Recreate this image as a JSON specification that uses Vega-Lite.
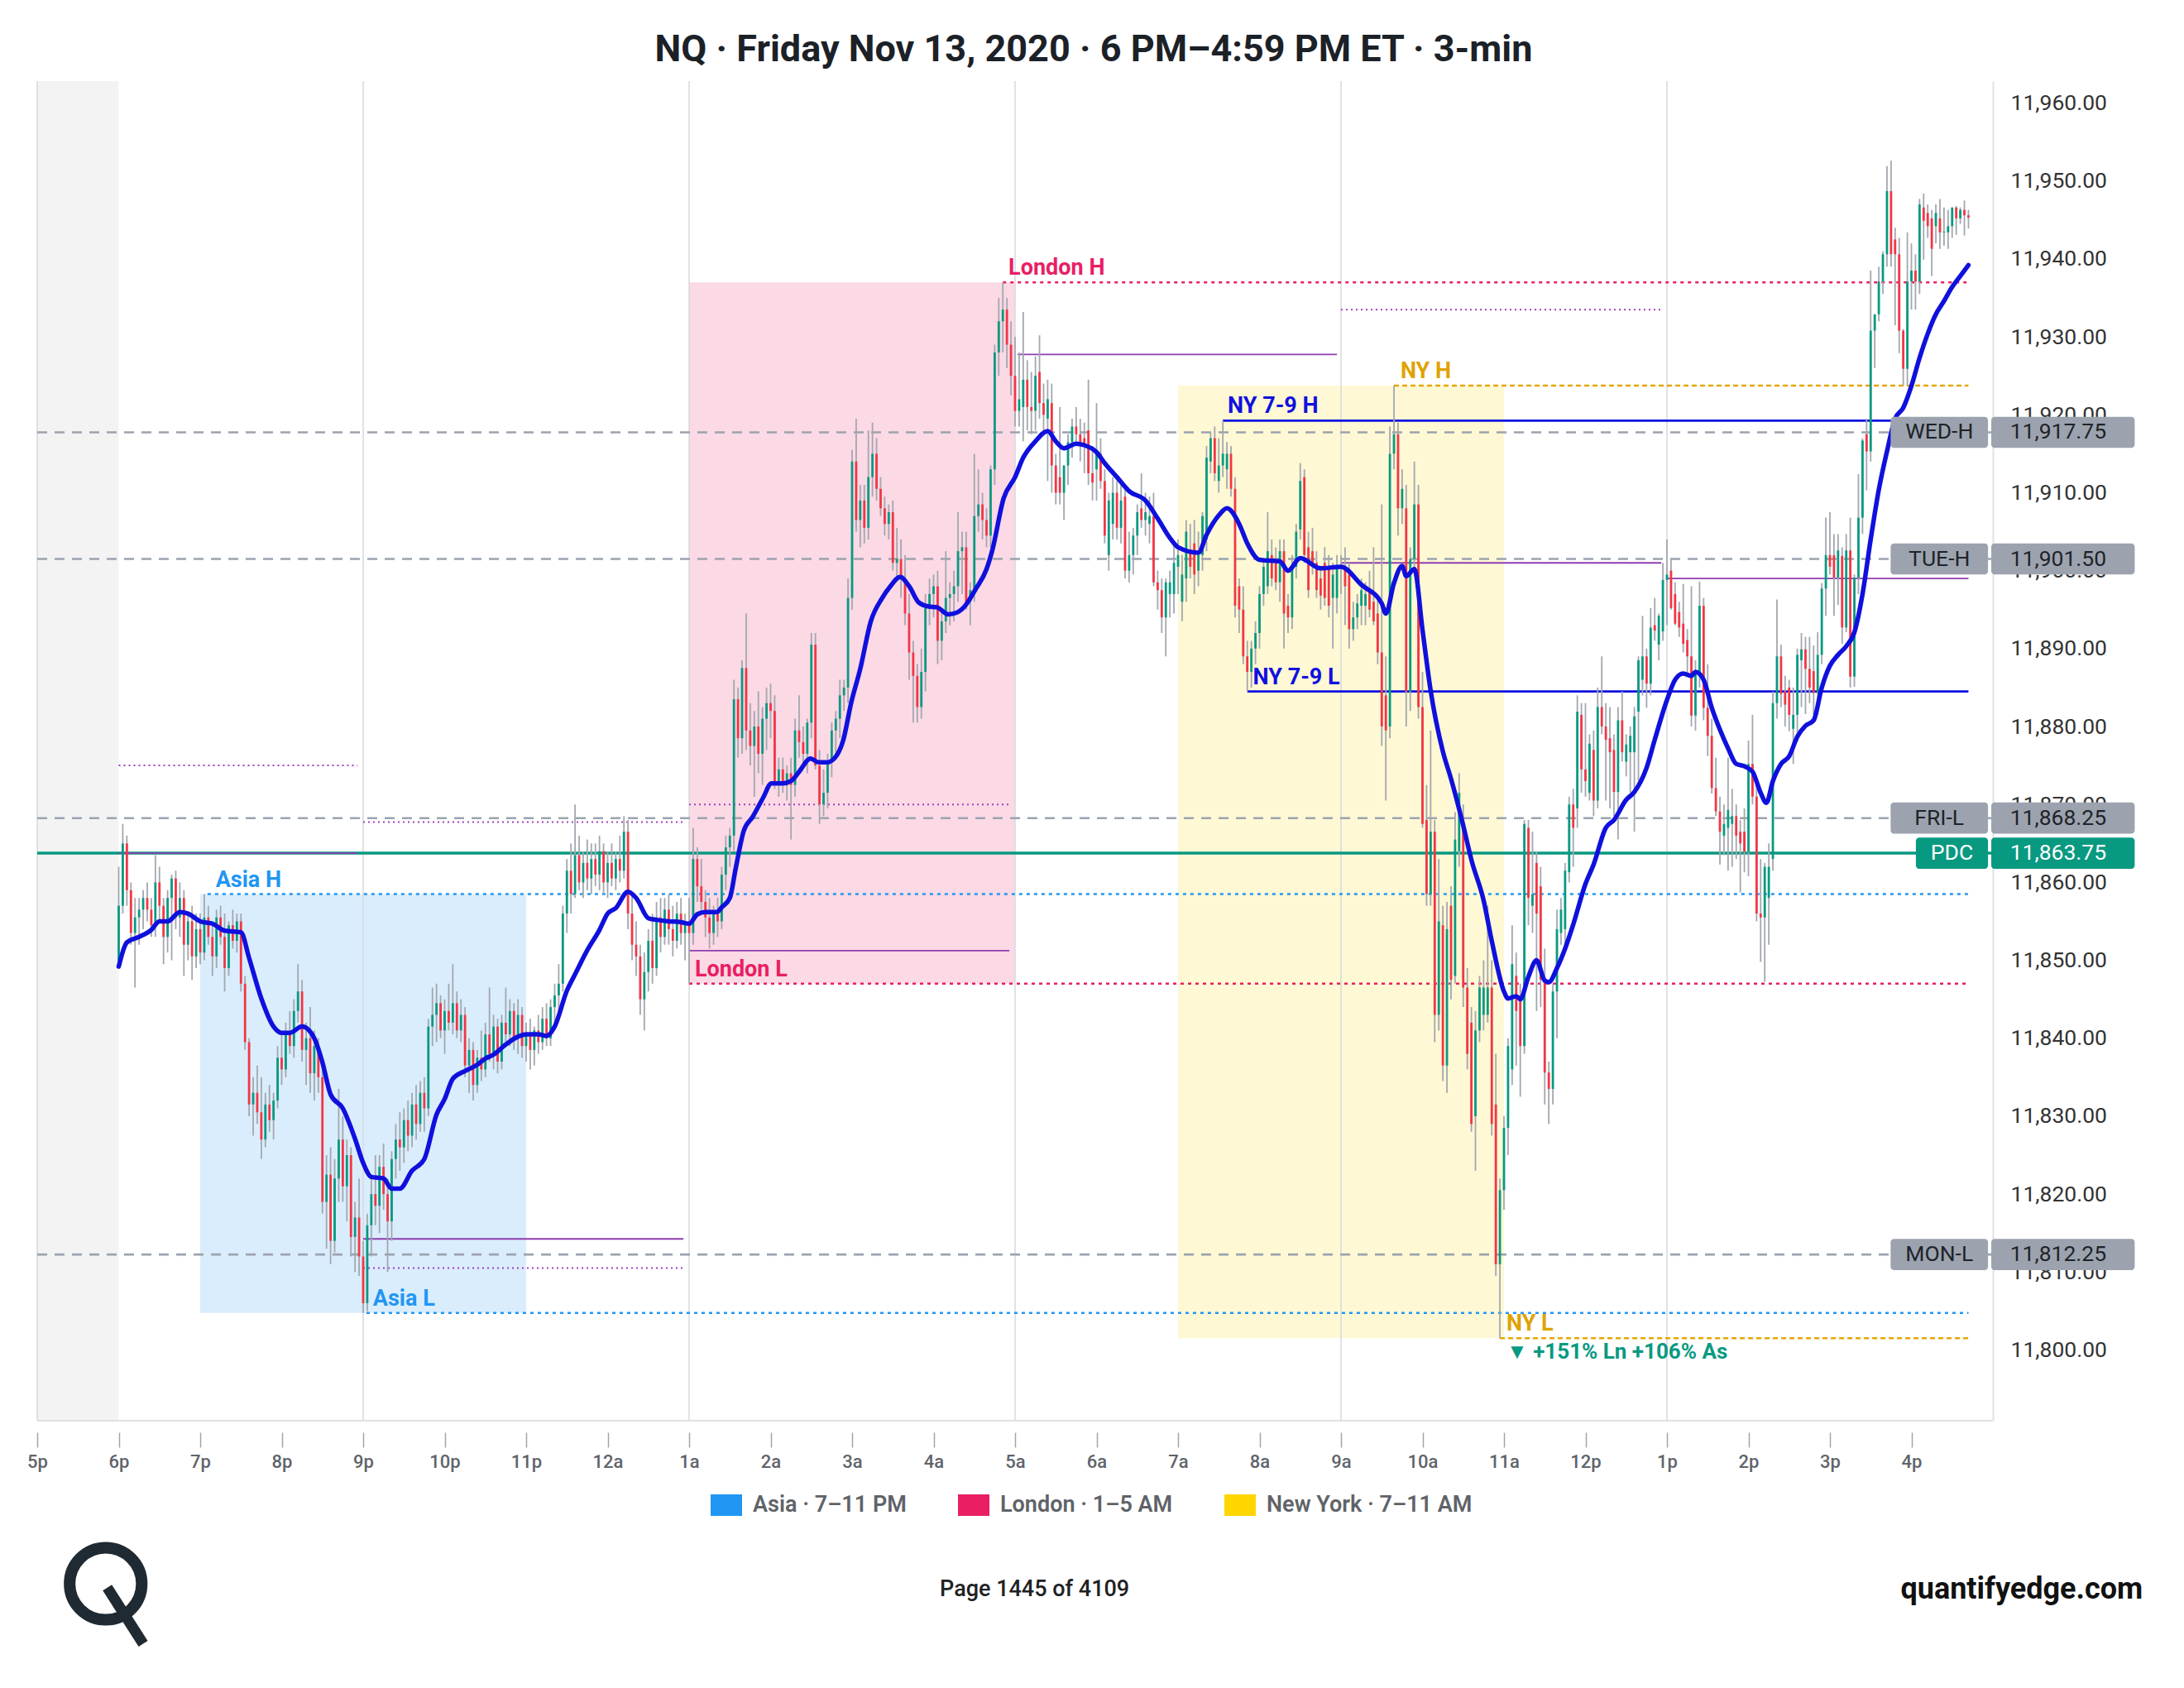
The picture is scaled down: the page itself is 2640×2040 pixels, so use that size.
{
"$schema": "https://vega.github.io/schema/vega-lite/v6.json",
"width": 2364, "height": 1619,
"autosize": {"type": "none"},
"padding": {"left": 45, "top": 98, "right": 231, "bottom": 323},
"background": "#ffffff",
"config": {"view": {"stroke": null}, "font": "Roboto"},
"title": {"text": "NQ · Friday Nov 13, 2020 · 6 PM–4:59 PM ET · 3-min", "font": "Roboto", "fontSize": 45, "fontWeight": "bold", "color": "#1c2127", "anchor": "middle", "dx": 95, "offset": 14},
"datasets": {
"sessions": [
{"s": "Asia · 7–11 PM", "x0": 2, "x1": 6, "lo": 11804.75, "hi": 11858.5},
{"s": "London · 1–5 AM", "x0": 8, "x1": 12, "lo": 11847, "hi": 11937},
{"s": "New York · 7–11 AM", "x0": 14, "x1": 18, "lo": 11801.5, "hi": 11923.75}
],
"closed": [{"from": 0, "to": 1}],
"grid": [{"t": 0}, {"t": 4}, {"t": 8}, {"t": 12}, {"t": 16}, {"t": 20}],
"levels": [
{"name": "WED-H", "p": 11917.75, "x0": 0, "x1": 24, "kind": "key"},
{"name": "TUE-H", "p": 11901.5, "x0": 0, "x1": 24, "kind": "key"},
{"name": "FRI-L", "p": 11868.25, "x0": 0, "x1": 24, "kind": "key"},
{"name": "MON-L", "p": 11812.25, "x0": 0, "x1": 24, "kind": "key"},
{"name": "PDC", "p": 11863.75, "x0": 0, "x1": 24, "kind": "pdc"},
{"name": "Asia H", "p": 11858.5, "x0": 2.09, "x1": 23.7, "kind": "asia"},
{"name": "Asia L", "p": 11804.75, "x0": 4.04, "x1": 23.7, "kind": "asia"},
{"name": "London H", "p": 11937, "x0": 11.85, "x1": 23.7, "kind": "london"},
{"name": "London L", "p": 11847, "x0": 8, "x1": 23.7, "kind": "london"},
{"name": "NY H", "p": 11923.75, "x0": 16.65, "x1": 23.7, "kind": "ny"},
{"name": "NY L", "p": 11801.5, "x0": 17.95, "x1": 23.7, "kind": "ny"},
{"name": "NY 7-9 H", "p": 11919.25, "x0": 14.55, "x1": 23.7, "kind": "ny79"},
{"name": "NY 7-9 L", "p": 11884.5, "x0": 14.85, "x1": 23.7, "kind": "ny79"},
{"name": "blk1 H", "p": 11875, "x0": 1, "x1": 3.93, "kind": "blkdot"},
{"name": "blk1 L", "p": 11863.75, "x0": 1, "x1": 3.93, "kind": "blksol"},
{"name": "blk2 H", "p": 11867.75, "x0": 4, "x1": 7.93, "kind": "blkdot"},
{"name": "blk2 L", "p": 11814.25, "x0": 4, "x1": 7.93, "kind": "blksol"},
{"name": "blk2 L2", "p": 11810.5, "x0": 4, "x1": 7.93, "kind": "blkdot"},
{"name": "blk3 H", "p": 11870, "x0": 8, "x1": 11.93, "kind": "blkdot"},
{"name": "blk3 L", "p": 11851.25, "x0": 8, "x1": 11.93, "kind": "blksol"},
{"name": "blk4 H", "p": 11927.75, "x0": 12.03, "x1": 15.95, "kind": "blksol"},
{"name": "blk5 H", "p": 11933.5, "x0": 16, "x1": 19.93, "kind": "blkdot"},
{"name": "blk5 L", "p": 11901, "x0": 16, "x1": 19.93, "kind": "blksol"},
{"name": "blk6 L", "p": 11899, "x0": 20, "x1": 23.7, "kind": "blksol"}
],
"labels": [
{"label": "Asia H", "t": 2.19, "p": 11858.5, "kind": "asia"},
{"label": "Asia L", "t": 4.12, "p": 11804.75, "kind": "asia"},
{"label": "London H", "t": 11.92, "p": 11937, "kind": "london"},
{"label": "London L", "t": 8.07, "p": 11847, "kind": "london"},
{"label": "NY H", "t": 16.73, "p": 11923.75, "kind": "ny"},
{"label": "NY L", "t": 18.03, "p": 11801.5, "kind": "ny"},
{"label": "NY 7-9 H", "t": 14.61, "p": 11919.25, "kind": "ny79"},
{"label": "NY 7-9 L", "t": 14.92, "p": 11884.5, "kind": "ny79"}
],
"note": [{"label": "▼ +151% Ln +106% As", "t": 18.03, "p": 11801.5}],
"keys": [
{"name": "WED-H", "p": 11917.75},
{"name": "TUE-H", "p": 11901.5},
{"name": "FRI-L", "p": 11868.25},
{"name": "PDC", "p": 11863.75},
{"name": "MON-L", "p": 11812.25}
],
"ma": [
{"t":1,"v":11849.2},{"t":1.1,"v":11852.3},{"t":1.25,"v":11853},{"t":1.4,"v":11853.9},{"t":1.5,"v":11855},{"t":1.6,"v":11855},{"t":1.75,"v":11856.2},{"t":1.85,"v":11856},{"t":2,"v":11855},{"t":2.15,"v":11854.7},{"t":2.3,"v":11853.8},{"t":2.5,"v":11853.6},{"t":2.6,"v":11850.3},{"t":2.75,"v":11845.1},{"t":2.9,"v":11841.5},{"t":3,"v":11840.7},{"t":3.1,"v":11840.7},{"t":3.25,"v":11841.5},{"t":3.4,"v":11840},{"t":3.5,"v":11836.9},{"t":3.6,"v":11832.8},{"t":3.75,"v":11831},{"t":3.9,"v":11827.1},{"t":4,"v":11824},{"t":4.1,"v":11822.2},{"t":4.25,"v":11822},{"t":4.35,"v":11820.7},{"t":4.45,"v":11820.7},{"t":4.6,"v":11823},{"t":4.75,"v":11824.5},{"t":4.9,"v":11830.2},{"t":5,"v":11832.2},{"t":5.1,"v":11834.8},{"t":5.25,"v":11835.8},{"t":5.4,"v":11836.6},{"t":5.5,"v":11837.4},{"t":5.6,"v":11837.9},{"t":5.75,"v":11839.2},{"t":5.9,"v":11840.2},{"t":6,"v":11840.5},{"t":6.15,"v":11840.5},{"t":6.25,"v":11840.3},{"t":6.35,"v":11841.5},{"t":6.5,"v":11846.1},{"t":6.6,"v":11848.2},{"t":6.75,"v":11851.3},{"t":6.9,"v":11853.9},{"t":7,"v":11856},{"t":7.1,"v":11856.7},{"t":7.25,"v":11858.8},{"t":7.35,"v":11858},{"t":7.5,"v":11855.4},{"t":7.6,"v":11855.2},{"t":7.75,"v":11855},{"t":7.9,"v":11854.9},{"t":8,"v":11854.7},{"t":8.1,"v":11855.9},{"t":8.2,"v":11856.2},{"t":8.34,"v":11856.2},{"t":8.4,"v":11856.8},{"t":8.5,"v":11858},{"t":8.57,"v":11861.7},{"t":8.67,"v":11866.6},{"t":8.78,"v":11868.4},{"t":8.91,"v":11870.9},{"t":9.01,"v":11872.7},{"t":9.15,"v":11872.7},{"t":9.25,"v":11873},{"t":9.35,"v":11874.2},{"t":9.49,"v":11875.9},{"t":9.59,"v":11875.4},{"t":9.69,"v":11875.4},{"t":9.79,"v":11876},{"t":9.89,"v":11878.2},{"t":9.99,"v":11883.1},{"t":10.1,"v":11887.4},{"t":10.23,"v":11893.5},{"t":10.37,"v":11896.5},{"t":10.47,"v":11898},{"t":10.59,"v":11899.2},{"t":10.7,"v":11898},{"t":10.82,"v":11895.9},{"t":10.94,"v":11895.4},{"t":11.04,"v":11895.3},{"t":11.18,"v":11894.4},{"t":11.28,"v":11894.6},{"t":11.38,"v":11895.4},{"t":11.52,"v":11897.7},{"t":11.65,"v":11900.2},{"t":11.72,"v":11902.6},{"t":11.86,"v":11909.3},{"t":12,"v":11912},{"t":12.1,"v":11914.5},{"t":12.25,"v":11916.6},{"t":12.4,"v":11917.9},{"t":12.5,"v":11916.6},{"t":12.6,"v":11915.7},{"t":12.75,"v":11916.3},{"t":12.85,"v":11916.1},{"t":13,"v":11915.2},{"t":13.1,"v":11913.8},{"t":13.25,"v":11912},{"t":13.4,"v":11910.2},{"t":13.6,"v":11909},{"t":13.75,"v":11906.7},{"t":13.9,"v":11904.2},{"t":14,"v":11903},{"t":14.25,"v":11902.3},{"t":14.35,"v":11904.6},{"t":14.5,"v":11907.1},{"t":14.6,"v":11908},{"t":14.75,"v":11906},{"t":14.85,"v":11903.5},{"t":15,"v":11901.4},{"t":15.25,"v":11901.2},{"t":15.35,"v":11900},{"t":15.5,"v":11901.6},{"t":15.75,"v":11900.3},{"t":16,"v":11900.5},{"t":16.25,"v":11898.2},{"t":16.5,"v":11895.8},{"t":16.55,"v":11894.5},{"t":16.65,"v":11898.4},{"t":16.75,"v":11900.6},{"t":16.8,"v":11899.3},{"t":16.9,"v":11900.2},{"t":17,"v":11892.4},{"t":17.1,"v":11884.6},{"t":17.25,"v":11876.8},{"t":17.35,"v":11873.3},{"t":17.5,"v":11867.3},{"t":17.6,"v":11862.9},{"t":17.75,"v":11857.7},{"t":17.85,"v":11852.5},{"t":18,"v":11846},{"t":18.05,"v":11845.1},{"t":18.15,"v":11845.4},{"t":18.2,"v":11845},{"t":18.3,"v":11847.9},{"t":18.4,"v":11850},{"t":18.5,"v":11847.4},{"t":18.55,"v":11847.2},{"t":18.65,"v":11849},{"t":18.75,"v":11851.5},{"t":18.85,"v":11854.6},{"t":19,"v":11859.8},{"t":19.1,"v":11862.3},{"t":19.25,"v":11867},{"t":19.35,"v":11868},{"t":19.5,"v":11870.6},{"t":19.6,"v":11871.6},{"t":19.75,"v":11874.7},{"t":19.85,"v":11878.3},{"t":20,"v":11883.4},{"t":20.1,"v":11886},{"t":20.2,"v":11886.8},{"t":20.3,"v":11886.5},{"t":20.35,"v":11887},{"t":20.45,"v":11886},{"t":20.55,"v":11882.4},{"t":20.65,"v":11879.6},{"t":20.75,"v":11877.2},{"t":20.85,"v":11875.2},{"t":20.95,"v":11874.9},{"t":21.05,"v":11874.2},{"t":21.15,"v":11871.5},{"t":21.22,"v":11870.2},{"t":21.3,"v":11873},{"t":21.4,"v":11875.2},{"t":21.5,"v":11876.2},{"t":21.6,"v":11878.7},{"t":21.7,"v":11880.1},{"t":21.8,"v":11880.8},{"t":21.9,"v":11885},{"t":22,"v":11887.8},{"t":22.1,"v":11889.2},{"t":22.2,"v":11890.3},{"t":22.3,"v":11892.1},{"t":22.4,"v":11897},{"t":22.5,"v":11904},{"t":22.6,"v":11910.4},{"t":22.7,"v":11915.3},{"t":22.8,"v":11919.5},{"t":22.9,"v":11920.9},{"t":23,"v":11923.7},{"t":23.1,"v":11927.3},{"t":23.2,"v":11930.4},{"t":23.3,"v":11932.9},{"t":23.4,"v":11934.6},{"t":23.5,"v":11936.4},{"t":23.6,"v":11937.8},{"t":23.7,"v":11939.2}
],
"candles": [
{"t":1,"o":11850,"h":11862,"l":11849,"c":11857},
{"t":1.05,"o":11857,"h":11867.5,"l":11856,"c":11865},
{"t":1.1,"o":11865,"h":11866,"l":11857,"c":11859},
{"t":1.15,"o":11859,"h":11860,"l":11852,"c":11853.5},
{"t":1.2,"o":11853.5,"h":11858,"l":11846.5,"c":11855.5},
{"t":1.25,"o":11855.5,"h":11858,"l":11852,"c":11856.5},
{"t":1.3,"o":11856.5,"h":11859,"l":11854,"c":11858},
{"t":1.35,"o":11858,"h":11860,"l":11855,"c":11856.5},
{"t":1.4,"o":11856.5,"h":11858,"l":11853,"c":11854.5},
{"t":1.45,"o":11854.5,"h":11863.5,"l":11853,"c":11860},
{"t":1.5,"o":11860,"h":11862,"l":11855,"c":11857},
{"t":1.55,"o":11857,"h":11858,"l":11849.5,"c":11853},
{"t":1.6,"o":11853,"h":11859,"l":11851,"c":11858},
{"t":1.65,"o":11858,"h":11861,"l":11850,"c":11860.5},
{"t":1.7,"o":11860.5,"h":11861.5,"l":11854,"c":11855.5},
{"t":1.75,"o":11855.5,"h":11860,"l":11853,"c":11858},
{"t":1.8,"o":11858,"h":11859,"l":11848,"c":11852},
{"t":1.85,"o":11852,"h":11856,"l":11850,"c":11855},
{"t":1.9,"o":11855,"h":11857,"l":11847.5,"c":11850.5},
{"t":1.95,"o":11850.5,"h":11856,"l":11849,"c":11854},
{"t":2,"o":11854,"h":11856,"l":11849.5,"c":11851},
{"t":2.05,"o":11851,"h":11858.5,"l":11850,"c":11855.5},
{"t":2.1,"o":11855.5,"h":11857,"l":11852,"c":11853},
{"t":2.15,"o":11853,"h":11855,"l":11848,"c":11850.5},
{"t":2.2,"o":11850.5,"h":11856.5,"l":11849,"c":11855.5},
{"t":2.25,"o":11855.5,"h":11857,"l":11852,"c":11853},
{"t":2.3,"o":11853,"h":11856,"l":11846,"c":11849},
{"t":2.35,"o":11849,"h":11855,"l":11848,"c":11854.5},
{"t":2.4,"o":11854.5,"h":11856.5,"l":11851.5,"c":11852.5},
{"t":2.45,"o":11852.5,"h":11856,"l":11851,"c":11855},
{"t":2.5,"o":11855,"h":11856,"l":11846,"c":11847},
{"t":2.55,"o":11847,"h":11848,"l":11838.5,"c":11839.5},
{"t":2.6,"o":11839.5,"h":11840,"l":11830,"c":11831.5},
{"t":2.65,"o":11831.5,"h":11835,"l":11827.5,"c":11833},
{"t":2.7,"o":11833,"h":11836.5,"l":11829,"c":11830.5},
{"t":2.75,"o":11830.5,"h":11835,"l":11824.5,"c":11827},
{"t":2.8,"o":11827,"h":11833,"l":11826,"c":11831.5},
{"t":2.85,"o":11831.5,"h":11834,"l":11828,"c":11829.5},
{"t":2.9,"o":11829.5,"h":11833,"l":11827,"c":11832},
{"t":2.95,"o":11832,"h":11839,"l":11831,"c":11837.5},
{"t":3,"o":11837.5,"h":11840.5,"l":11834,"c":11836},
{"t":3.05,"o":11836,"h":11842,"l":11835,"c":11840.5},
{"t":3.1,"o":11840.5,"h":11843.5,"l":11838,"c":11839},
{"t":3.15,"o":11839,"h":11845,"l":11837.5,"c":11843.5},
{"t":3.2,"o":11843.5,"h":11849.5,"l":11842,"c":11846},
{"t":3.25,"o":11846,"h":11847.5,"l":11837,"c":11838.5},
{"t":3.3,"o":11838.5,"h":11842,"l":11834,"c":11840},
{"t":3.35,"o":11840,"h":11844,"l":11833,"c":11835.5},
{"t":3.4,"o":11835.5,"h":11841,"l":11832,"c":11839},
{"t":3.45,"o":11839,"h":11840,"l":11833,"c":11835},
{"t":3.5,"o":11835,"h":11836,"l":11817.5,"c":11819},
{"t":3.55,"o":11819,"h":11825,"l":11813,"c":11822.5},
{"t":3.6,"o":11822.5,"h":11826,"l":11811,"c":11814},
{"t":3.65,"o":11814,"h":11824.5,"l":11812.5,"c":11822},
{"t":3.7,"o":11822,"h":11833.5,"l":11819,"c":11827},
{"t":3.75,"o":11827,"h":11830,"l":11819,"c":11821},
{"t":3.8,"o":11821,"h":11827,"l":11816.5,"c":11825},
{"t":3.85,"o":11825,"h":11826,"l":11812,"c":11814.5},
{"t":3.9,"o":11814.5,"h":11819,"l":11810,"c":11817},
{"t":3.95,"o":11817,"h":11822,"l":11809.5,"c":11812},
{"t":4,"o":11812,"h":11814,"l":11804.75,"c":11806},
{"t":4.05,"o":11806,"h":11817.5,"l":11805,"c":11816},
{"t":4.1,"o":11816,"h":11822,"l":11812,"c":11820},
{"t":4.15,"o":11820,"h":11825,"l":11816,"c":11818.5},
{"t":4.2,"o":11818.5,"h":11825,"l":11815,"c":11823.5},
{"t":4.25,"o":11823.5,"h":11826.5,"l":11818,"c":11820},
{"t":4.3,"o":11820,"h":11822,"l":11810,"c":11816.5},
{"t":4.35,"o":11816.5,"h":11825.5,"l":11814,"c":11824.5},
{"t":4.4,"o":11824.5,"h":11829,"l":11822,"c":11827},
{"t":4.45,"o":11827,"h":11830.5,"l":11823,"c":11826},
{"t":4.5,"o":11826,"h":11831,"l":11824,"c":11829.5},
{"t":4.55,"o":11829.5,"h":11832,"l":11825.5,"c":11827.5},
{"t":4.6,"o":11827.5,"h":11833,"l":11826,"c":11831.5},
{"t":4.65,"o":11831.5,"h":11834,"l":11827,"c":11829},
{"t":4.7,"o":11829,"h":11834.5,"l":11828,"c":11833},
{"t":4.75,"o":11833,"h":11835,"l":11828,"c":11831},
{"t":4.8,"o":11831,"h":11842.5,"l":11830,"c":11841.5},
{"t":4.85,"o":11841.5,"h":11846.5,"l":11839,"c":11843},
{"t":4.9,"o":11843,"h":11847,"l":11839.5,"c":11844.5},
{"t":4.95,"o":11844.5,"h":11845.5,"l":11840,"c":11841},
{"t":5,"o":11841,"h":11845,"l":11838,"c":11843.5},
{"t":5.05,"o":11843.5,"h":11847,"l":11841,"c":11842},
{"t":5.1,"o":11842,"h":11849.5,"l":11840.5,"c":11844.5},
{"t":5.15,"o":11844.5,"h":11846,"l":11840,"c":11841},
{"t":5.2,"o":11841,"h":11845,"l":11839.5,"c":11843},
{"t":5.25,"o":11843,"h":11844,"l":11835,"c":11836.5},
{"t":5.3,"o":11836.5,"h":11840,"l":11833,"c":11838.5},
{"t":5.35,"o":11838.5,"h":11839.5,"l":11832,"c":11834},
{"t":5.4,"o":11834,"h":11838.5,"l":11833,"c":11837.5},
{"t":5.45,"o":11837.5,"h":11841,"l":11834.5,"c":11836},
{"t":5.5,"o":11836,"h":11842,"l":11835,"c":11840.5},
{"t":5.55,"o":11840.5,"h":11846.5,"l":11837,"c":11838},
{"t":5.6,"o":11838,"h":11843,"l":11836,"c":11841.5},
{"t":5.65,"o":11841.5,"h":11842.5,"l":11835.5,"c":11837},
{"t":5.7,"o":11837,"h":11843,"l":11836,"c":11842},
{"t":5.75,"o":11842,"h":11846.5,"l":11839.5,"c":11840.5},
{"t":5.8,"o":11840.5,"h":11845,"l":11839,"c":11843.5},
{"t":5.85,"o":11843.5,"h":11844.5,"l":11838.5,"c":11840},
{"t":5.9,"o":11840,"h":11845,"l":11838,"c":11843},
{"t":5.95,"o":11843,"h":11844,"l":11837.5,"c":11839},
{"t":6,"o":11839,"h":11842,"l":11837,"c":11840.5},
{"t":6.05,"o":11840.5,"h":11842.5,"l":11836,"c":11838.5},
{"t":6.1,"o":11838.5,"h":11841.5,"l":11836.5,"c":11841},
{"t":6.15,"o":11841,"h":11843,"l":11838,"c":11839.5},
{"t":6.2,"o":11839.5,"h":11844,"l":11838.5,"c":11842.5},
{"t":6.25,"o":11842.5,"h":11844.5,"l":11839,"c":11840},
{"t":6.3,"o":11840,"h":11845,"l":11839,"c":11844},
{"t":6.35,"o":11844,"h":11847,"l":11842,"c":11845.5},
{"t":6.4,"o":11845.5,"h":11849.5,"l":11843,"c":11847},
{"t":6.45,"o":11847,"h":11857,"l":11846,"c":11856},
{"t":6.5,"o":11856,"h":11863,"l":11853.5,"c":11861.5},
{"t":6.55,"o":11861.5,"h":11865,"l":11856,"c":11858.5},
{"t":6.6,"o":11858.5,"h":11870,"l":11858,"c":11863.5},
{"t":6.65,"o":11863.5,"h":11866,"l":11859,"c":11860},
{"t":6.7,"o":11860,"h":11864,"l":11858,"c":11862.5},
{"t":6.75,"o":11862.5,"h":11865.5,"l":11859,"c":11860.5},
{"t":6.8,"o":11860.5,"h":11865,"l":11858.5,"c":11863},
{"t":6.85,"o":11863,"h":11865,"l":11859.5,"c":11861},
{"t":6.9,"o":11861,"h":11866,"l":11859,"c":11864},
{"t":6.95,"o":11864,"h":11865,"l":11858.5,"c":11860},
{"t":7,"o":11860,"h":11864,"l":11858,"c":11862.5},
{"t":7.05,"o":11862.5,"h":11865,"l":11859.5,"c":11860.5},
{"t":7.1,"o":11860.5,"h":11864,"l":11859,"c":11863},
{"t":7.15,"o":11863,"h":11866,"l":11860,"c":11861.5},
{"t":7.2,"o":11861.5,"h":11868.5,"l":11860.5,"c":11866.5},
{"t":7.25,"o":11866.5,"h":11868,"l":11854,"c":11856},
{"t":7.3,"o":11856,"h":11858.5,"l":11850,"c":11852},
{"t":7.35,"o":11852,"h":11855,"l":11848,"c":11850.5},
{"t":7.4,"o":11850.5,"h":11852,"l":11843,"c":11845},
{"t":7.45,"o":11845,"h":11851,"l":11841,"c":11848.5},
{"t":7.5,"o":11848.5,"h":11854,"l":11846,"c":11852.5},
{"t":7.55,"o":11852.5,"h":11856,"l":11847,"c":11849},
{"t":7.6,"o":11849,"h":11857.5,"l":11848,"c":11855.5},
{"t":7.65,"o":11855.5,"h":11858,"l":11851,"c":11853},
{"t":7.7,"o":11853,"h":11858,"l":11852,"c":11856.5},
{"t":7.75,"o":11856.5,"h":11858.5,"l":11852,"c":11854},
{"t":7.8,"o":11854,"h":11857,"l":11850.5,"c":11852.5},
{"t":7.85,"o":11852.5,"h":11857.5,"l":11851.5,"c":11856},
{"t":7.9,"o":11856,"h":11858,"l":11852,"c":11853.5},
{"t":7.95,"o":11853.5,"h":11856,"l":11850,"c":11855},
{"t":8,"o":11855,"h":11858,"l":11847,"c":11853.5},
{"t":8.05,"o":11853.5,"h":11867,"l":11852,"c":11863},
{"t":8.1,"o":11863,"h":11864.5,"l":11857.5,"c":11859.5},
{"t":8.15,"o":11859.5,"h":11863,"l":11856.5,"c":11857.5},
{"t":8.2,"o":11857.5,"h":11859,"l":11853,"c":11855.5},
{"t":8.25,"o":11855.5,"h":11858,"l":11851.5,"c":11853.5},
{"t":8.3,"o":11853.5,"h":11857,"l":11852,"c":11856},
{"t":8.35,"o":11856,"h":11858,"l":11853,"c":11855},
{"t":8.4,"o":11855,"h":11862,"l":11854,"c":11861},
{"t":8.45,"o":11861,"h":11866,"l":11859,"c":11864.5},
{"t":8.5,"o":11864.5,"h":11867,"l":11862,"c":11866},
{"t":8.55,"o":11866,"h":11886,"l":11864,"c":11883.5},
{"t":8.6,"o":11883.5,"h":11885,"l":11876,"c":11878.5},
{"t":8.65,"o":11878.5,"h":11888.5,"l":11876.5,"c":11887.5},
{"t":8.7,"o":11887.5,"h":11894.5,"l":11877,"c":11879.5},
{"t":8.75,"o":11879.5,"h":11883,"l":11875,"c":11877.5},
{"t":8.8,"o":11877.5,"h":11882,"l":11871,"c":11880},
{"t":8.85,"o":11880,"h":11884.5,"l":11874,"c":11876.5},
{"t":8.9,"o":11876.5,"h":11882.5,"l":11872.5,"c":11881},
{"t":8.95,"o":11881,"h":11885,"l":11877,"c":11883},
{"t":9,"o":11883,"h":11885.5,"l":11878.5,"c":11882},
{"t":9.05,"o":11882,"h":11884,"l":11872,"c":11873},
{"t":9.1,"o":11873,"h":11876,"l":11871,"c":11874.5},
{"t":9.15,"o":11874.5,"h":11876,"l":11871.5,"c":11872.5},
{"t":9.2,"o":11872.5,"h":11875,"l":11870.5,"c":11874},
{"t":9.25,"o":11874,"h":11876,"l":11865.5,"c":11872.5},
{"t":9.3,"o":11872.5,"h":11881,"l":11871,"c":11879.5},
{"t":9.35,"o":11879.5,"h":11884,"l":11876,"c":11878},
{"t":9.4,"o":11878,"h":11880,"l":11875,"c":11876.5},
{"t":9.45,"o":11876.5,"h":11881,"l":11874,"c":11880.5},
{"t":9.5,"o":11880.5,"h":11892,"l":11878.5,"c":11890.5},
{"t":9.55,"o":11890.5,"h":11892,"l":11874.5,"c":11875},
{"t":9.6,"o":11875,"h":11877,"l":11867.5,"c":11870},
{"t":9.65,"o":11870,"h":11874.5,"l":11868.5,"c":11871.5},
{"t":9.7,"o":11871.5,"h":11876.5,"l":11869.5,"c":11875.5},
{"t":9.75,"o":11875.5,"h":11880.5,"l":11873.5,"c":11879.5},
{"t":9.8,"o":11879.5,"h":11882,"l":11876,"c":11881},
{"t":9.85,"o":11881,"h":11886,"l":11878.5,"c":11884},
{"t":9.9,"o":11884,"h":11886,"l":11882,"c":11885},
{"t":9.95,"o":11885,"h":11899,"l":11883,"c":11896.5},
{"t":10,"o":11896.5,"h":11915.5,"l":11895,"c":11914},
{"t":10.05,"o":11914,"h":11919.5,"l":11905,"c":11906.5},
{"t":10.1,"o":11906.5,"h":11911,"l":11903,"c":11909},
{"t":10.15,"o":11909,"h":11911,"l":11903.5,"c":11905.5},
{"t":10.2,"o":11905.5,"h":11918,"l":11904,"c":11912},
{"t":10.25,"o":11912,"h":11919,"l":11909.5,"c":11915},
{"t":10.3,"o":11915,"h":11917,"l":11909,"c":11910.5},
{"t":10.35,"o":11910.5,"h":11912,"l":11907,"c":11908},
{"t":10.4,"o":11908,"h":11909.5,"l":11904.5,"c":11906},
{"t":10.45,"o":11906,"h":11908.5,"l":11904,"c":11907.5},
{"t":10.5,"o":11907.5,"h":11909,"l":11900,"c":11901},
{"t":10.55,"o":11901,"h":11905.5,"l":11899,"c":11901.5},
{"t":10.6,"o":11901.5,"h":11904,"l":11896.5,"c":11899},
{"t":10.65,"o":11899,"h":11902,"l":11893,"c":11894.5},
{"t":10.7,"o":11894.5,"h":11897,"l":11886,"c":11889.5},
{"t":10.75,"o":11889.5,"h":11891,"l":11880.5,"c":11886.5},
{"t":10.8,"o":11886.5,"h":11888,"l":11880.5,"c":11882.5},
{"t":10.85,"o":11882.5,"h":11890,"l":11881,"c":11887},
{"t":10.9,"o":11887,"h":11897,"l":11884.5,"c":11895.5},
{"t":10.95,"o":11895.5,"h":11899,"l":11893,"c":11897},
{"t":11,"o":11897,"h":11899.5,"l":11894,"c":11898},
{"t":11.05,"o":11898,"h":11900,"l":11888,"c":11891},
{"t":11.1,"o":11891,"h":11895,"l":11888.5,"c":11893.5},
{"t":11.15,"o":11893.5,"h":11902.5,"l":11892,"c":11896.5},
{"t":11.2,"o":11896.5,"h":11898.5,"l":11893,"c":11897},
{"t":11.25,"o":11897,"h":11900,"l":11893.5,"c":11898},
{"t":11.3,"o":11898,"h":11907.5,"l":11896,"c":11902.5},
{"t":11.35,"o":11902.5,"h":11905,"l":11897,"c":11903},
{"t":11.4,"o":11903,"h":11905,"l":11895,"c":11896},
{"t":11.45,"o":11896,"h":11898.5,"l":11893,"c":11897.5},
{"t":11.5,"o":11897.5,"h":11915,"l":11896,"c":11907},
{"t":11.55,"o":11907,"h":11913,"l":11905,"c":11908.5},
{"t":11.6,"o":11908.5,"h":11910,"l":11904,"c":11906.5},
{"t":11.65,"o":11906.5,"h":11908,"l":11903,"c":11904.5},
{"t":11.7,"o":11904.5,"h":11913.5,"l":11903,"c":11913},
{"t":11.75,"o":11913,"h":11929,"l":11911,"c":11928},
{"t":11.8,"o":11928,"h":11935,"l":11925,"c":11932},
{"t":11.85,"o":11932,"h":11937,"l":11928,"c":11933.5},
{"t":11.9,"o":11933.5,"h":11935,"l":11926,"c":11929},
{"t":11.95,"o":11929,"h":11932,"l":11922.5,"c":11925},
{"t":12,"o":11925,"h":11930,"l":11918.5,"c":11920.5},
{"t":12.05,"o":11920.5,"h":11928,"l":11918.5,"c":11922},
{"t":12.1,"o":11921,"h":11933.2,"l":11916.6,"c":11924.5},
{"t":12.15,"o":11924.5,"h":11927,"l":11918,"c":11921},
{"t":12.2,"o":11921,"h":11925.5,"l":11917.5,"c":11920.5},
{"t":12.25,"o":11920.5,"h":11927.5,"l":11918,"c":11925},
{"t":12.3,"o":11925.5,"h":11930.2,"l":11919.5,"c":11921.5},
{"t":12.35,"o":11921.5,"h":11924,"l":11917.5,"c":11920},
{"t":12.4,"o":11919.5,"h":11924.5,"l":11911.5,"c":11922},
{"t":12.45,"o":11921.5,"h":11924,"l":11910,"c":11913.5},
{"t":12.5,"o":11913.5,"h":11915,"l":11908.5,"c":11910},
{"t":12.55,"o":11912,"h":11921,"l":11908.5,"c":11910},
{"t":12.6,"o":11910,"h":11913.5,"l":11906.5,"c":11913.5},
{"t":12.65,"o":11913.5,"h":11917.5,"l":11911,"c":11916.5},
{"t":12.7,"o":11916.5,"h":11919.5,"l":11914.5,"c":11918.5},
{"t":12.75,"o":11918.5,"h":11921,"l":11916,"c":11917.5},
{"t":12.8,"o":11917.5,"h":11919.5,"l":11914,"c":11916.5},
{"t":12.85,"o":11917,"h":11919,"l":11912.5,"c":11916},
{"t":12.9,"o":11918,"h":11924.5,"l":11911,"c":11912.5},
{"t":12.95,"o":11912.5,"h":11916,"l":11909,"c":11911.3},
{"t":13,"o":11913,"h":11921.5,"l":11909,"c":11915},
{"t":13.05,"o":11915,"h":11917,"l":11910.5,"c":11911.5},
{"t":13.1,"o":11911.5,"h":11913,"l":11903.5,"c":11904.5},
{"t":13.15,"o":11902,"h":11910,"l":11900,"c":11909},
{"t":13.2,"o":11906,"h":11912,"l":11904,"c":11910},
{"t":13.25,"o":11910,"h":11911.5,"l":11904,"c":11905.5},
{"t":13.3,"o":11905.5,"h":11911,"l":11903.5,"c":11909},
{"t":13.35,"o":11909.5,"h":11911,"l":11899,"c":11900},
{"t":13.4,"o":11900,"h":11905,"l":11898.5,"c":11902},
{"t":13.45,"o":11902,"h":11905.5,"l":11899.5,"c":11904.5},
{"t":13.5,"o":11904.5,"h":11908.5,"l":11902,"c":11907.5},
{"t":13.55,"o":11908,"h":11912.5,"l":11905.5,"c":11906.5},
{"t":13.6,"o":11906.5,"h":11910,"l":11904.5,"c":11907.5},
{"t":13.65,"o":11906,"h":11909.5,"l":11903.5,"c":11907},
{"t":13.7,"o":11907,"h":11910,"l":11898,"c":11898.5},
{"t":13.75,"o":11898.5,"h":11900,"l":11895,"c":11897.5},
{"t":13.8,"o":11897.5,"h":11899,"l":11892,"c":11894},
{"t":13.85,"o":11894,"h":11899,"l":11889,"c":11898.5},
{"t":13.9,"o":11897,"h":11900,"l":11894,"c":11898.5},
{"t":13.95,"o":11897,"h":11903.5,"l":11894.5,"c":11901},
{"t":14,"o":11900.5,"h":11904,"l":11897,"c":11902},
{"t":14.05,"o":11896,"h":11902,"l":11893.5,"c":11899.5},
{"t":14.1,"o":11899,"h":11906.5,"l":11896,"c":11905},
{"t":14.15,"o":11902.5,"h":11906,"l":11899,"c":11900.5},
{"t":14.2,"o":11903.5,"h":11906.5,"l":11897,"c":11899.5},
{"t":14.25,"o":11900,"h":11905,"l":11898,"c":11902},
{"t":14.3,"o":11902,"h":11907.5,"l":11900,"c":11907},
{"t":14.35,"o":11904,"h":11916,"l":11902.5,"c":11914.5},
{"t":14.4,"o":11914,"h":11917.75,"l":11912.5,"c":11917},
{"t":14.45,"o":11917,"h":11918.5,"l":11911.5,"c":11912.5},
{"t":14.5,"o":11911.5,"h":11917,"l":11910,"c":11913.5},
{"t":14.55,"o":11913.5,"h":11919.25,"l":11912,"c":11915},
{"t":14.6,"o":11913,"h":11916.5,"l":11910.5,"c":11915},
{"t":14.65,"o":11915,"h":11916,"l":11909.5,"c":11910.5},
{"t":14.7,"o":11910.5,"h":11912,"l":11894,"c":11895.5},
{"t":14.75,"o":11898,"h":11899,"l":11892,"c":11895},
{"t":14.8,"o":11895,"h":11898,"l":11888,"c":11889},
{"t":14.85,"o":11889,"h":11891,"l":11884.5,"c":11887},
{"t":14.9,"o":11887,"h":11891,"l":11885,"c":11890},
{"t":14.95,"o":11890,"h":11893.5,"l":11888,"c":11892},
{"t":15,"o":11892,"h":11898,"l":11890,"c":11897},
{"t":15.05,"o":11897,"h":11901.5,"l":11895.5,"c":11900.5},
{"t":15.1,"o":11898,"h":11907.5,"l":11897,"c":11902.5},
{"t":15.15,"o":11902,"h":11904,"l":11898,"c":11899},
{"t":15.2,"o":11901,"h":11903,"l":11897.5,"c":11898.5},
{"t":15.25,"o":11898.5,"h":11904,"l":11896,"c":11902.5},
{"t":15.3,"o":11902.5,"h":11904,"l":11890,"c":11894.5},
{"t":15.35,"o":11895.5,"h":11897,"l":11892,"c":11894},
{"t":15.4,"o":11894,"h":11902,"l":11892.5,"c":11900.5},
{"t":15.45,"o":11900.5,"h":11906,"l":11899,"c":11905},
{"t":15.5,"o":11905.3,"h":11913.8,"l":11904,"c":11911.5},
{"t":15.55,"o":11912,"h":11913,"l":11901,"c":11902},
{"t":15.6,"o":11903,"h":11905,"l":11896.5,"c":11897.5},
{"t":15.65,"o":11902.5,"h":11905.5,"l":11899.5,"c":11901},
{"t":15.7,"o":11901,"h":11902.5,"l":11896.5,"c":11897.5},
{"t":15.75,"o":11899,"h":11900.5,"l":11895,"c":11896.8},
{"t":15.8,"o":11901,"h":11903,"l":11895.5,"c":11896.5},
{"t":15.85,"o":11900.5,"h":11902,"l":11894,"c":11895.5},
{"t":15.9,"o":11896.5,"h":11901,"l":11890,"c":11899.5},
{"t":15.95,"o":11896.5,"h":11902,"l":11894.5,"c":11900.5},
{"t":16,"o":11900.3,"h":11902,"l":11897,"c":11900.5},
{"t":16.05,"o":11900.5,"h":11903,"l":11893,"c":11898},
{"t":16.1,"o":11899.5,"h":11901,"l":11890,"c":11892.5},
{"t":16.15,"o":11892.5,"h":11896,"l":11891,"c":11894},
{"t":16.2,"o":11894,"h":11897,"l":11892.5,"c":11895.8},
{"t":16.25,"o":11895.5,"h":11899,"l":11893,"c":11897.5},
{"t":16.3,"o":11895.5,"h":11898.5,"l":11893,"c":11897},
{"t":16.35,"o":11897.5,"h":11900,"l":11894,"c":11895},
{"t":16.4,"o":11896,"h":11903,"l":11893,"c":11893.5},
{"t":16.45,"o":11894.5,"h":11897,"l":11888,"c":11889.5},
{"t":16.5,"o":11889.5,"h":11908.5,"l":11877.5,"c":11880},
{"t":16.55,"o":11884,"h":11889,"l":11870.5,"c":11879.5},
{"t":16.6,"o":11880,"h":11918.5,"l":11878.5,"c":11915},
{"t":16.65,"o":11915,"h":11923.75,"l":11913,"c":11917.5},
{"t":16.7,"o":11917.5,"h":11919,"l":11904.5,"c":11908},
{"t":16.75,"o":11908,"h":11913,"l":11906,"c":11910.5},
{"t":16.8,"o":11908,"h":11911,"l":11880,"c":11884.5},
{"t":16.85,"o":11884.5,"h":11903,"l":11882,"c":11901.5},
{"t":16.9,"o":11901.5,"h":11914,"l":11900,"c":11908.5},
{"t":16.95,"o":11908.5,"h":11911,"l":11881,"c":11882.5},
{"t":17,"o":11882.5,"h":11887,"l":11867,"c":11867.5},
{"t":17.05,"o":11868,"h":11872.5,"l":11857,"c":11858.5},
{"t":17.1,"o":11858.5,"h":11879.5,"l":11857,"c":11866.5},
{"t":17.15,"o":11866.5,"h":11868,"l":11839.5,"c":11843},
{"t":17.2,"o":11843,"h":11863,"l":11841,"c":11855},
{"t":17.25,"o":11854.5,"h":11857,"l":11834.5,"c":11836.5},
{"t":17.3,"o":11836.5,"h":11857.5,"l":11833,"c":11854},
{"t":17.35,"o":11857,"h":11859.5,"l":11845,"c":11847.5},
{"t":17.4,"o":11848,"h":11869,"l":11847,"c":11865.5},
{"t":17.45,"o":11864,"h":11874,"l":11862,"c":11871.5},
{"t":17.5,"o":11868,"h":11870,"l":11844,"c":11846.5},
{"t":17.55,"o":11846.5,"h":11849,"l":11836,"c":11838},
{"t":17.6,"o":11842,"h":11844,"l":11828,"c":11829},
{"t":17.65,"o":11830,"h":11843.5,"l":11823,"c":11841},
{"t":17.7,"o":11841,"h":11848,"l":11839.5,"c":11846.5},
{"t":17.75,"o":11843,"h":11850,"l":11841,"c":11846.5},
{"t":17.8,"o":11843,"h":11857,"l":11842,"c":11846.5},
{"t":17.85,"o":11846.5,"h":11850,"l":11827.5,"c":11829},
{"t":17.9,"o":11831.5,"h":11838,"l":11809.5,"c":11811},
{"t":17.95,"o":11811,"h":11822,"l":11801.5,"c":11820.5},
{"t":18,"o":11820.5,"h":11830,"l":11818,"c":11828.5},
{"t":18.05,"o":11828.5,"h":11840,"l":11825,"c":11839},
{"t":18.1,"o":11836,"h":11854.5,"l":11834,"c":11849.5},
{"t":18.15,"o":11848,"h":11851,"l":11836.5,"c":11843.5},
{"t":18.2,"o":11845.5,"h":11847,"l":11832.5,"c":11839},
{"t":18.25,"o":11839,"h":11868,"l":11838,"c":11867.5},
{"t":18.3,"o":11867,"h":11868,"l":11854.5,"c":11858},
{"t":18.35,"o":11857,"h":11866.5,"l":11853.5,"c":11858.5},
{"t":18.4,"o":11862.5,"h":11864,"l":11843.5,"c":11856},
{"t":18.45,"o":11859.5,"h":11862,"l":11844,"c":11847.5},
{"t":18.5,"o":11847.5,"h":11851.5,"l":11831.5,"c":11835.6},
{"t":18.55,"o":11835.6,"h":11837,"l":11829,"c":11833.5},
{"t":18.6,"o":11833.5,"h":11847,"l":11831.5,"c":11846},
{"t":18.65,"o":11846,"h":11856.5,"l":11840,"c":11854},
{"t":18.7,"o":11853.5,"h":11858,"l":11852,"c":11856.5},
{"t":18.75,"o":11854,"h":11862.5,"l":11852,"c":11861.5},
{"t":18.8,"o":11861.3,"h":11871,"l":11860,"c":11870},
{"t":18.85,"o":11870,"h":11872,"l":11862,"c":11867},
{"t":18.9,"o":11869.5,"h":11884,"l":11867,"c":11881.9},
{"t":18.95,"o":11881.5,"h":11883,"l":11871.5,"c":11874.5},
{"t":19,"o":11874.5,"h":11883,"l":11871,"c":11873},
{"t":19.05,"o":11871.5,"h":11879,"l":11870.5,"c":11877.8},
{"t":19.1,"o":11877,"h":11879.5,"l":11868.5,"c":11870.5},
{"t":19.15,"o":11870.5,"h":11885,"l":11869.5,"c":11882.5},
{"t":19.2,"o":11882.5,"h":11889,"l":11879,"c":11880},
{"t":19.25,"o":11880,"h":11883,"l":11870.5,"c":11878.3},
{"t":19.3,"o":11878.5,"h":11882.5,"l":11869.5,"c":11876.7},
{"t":19.35,"o":11877,"h":11879,"l":11868.5,"c":11871.6},
{"t":19.4,"o":11871.6,"h":11882.5,"l":11865.5,"c":11880.8},
{"t":19.45,"o":11880.8,"h":11884.5,"l":11875.5,"c":11876.7},
{"t":19.5,"o":11875.5,"h":11879,"l":11873.6,"c":11877.7},
{"t":19.55,"o":11876.7,"h":11880,"l":11871.5,"c":11878.8},
{"t":19.6,"o":11876.7,"h":11882.5,"l":11866.5,"c":11881.3},
{"t":19.65,"o":11881.9,"h":11889,"l":11873,"c":11888.5},
{"t":19.7,"o":11886,"h":11894.2,"l":11884,"c":11889},
{"t":19.75,"o":11889,"h":11890,"l":11882.4,"c":11885.5},
{"t":19.8,"o":11885.5,"h":11895.2,"l":11884,"c":11892.7},
{"t":19.85,"o":11893,"h":11896.5,"l":11891,"c":11892.3},
{"t":19.9,"o":11890.5,"h":11894.5,"l":11888.5,"c":11894.2},
{"t":19.95,"o":11892.2,"h":11901,"l":11891,"c":11898.8},
{"t":20,"o":11898.8,"h":11904,"l":11893,"c":11899.5},
{"t":20.05,"o":11900,"h":11901.5,"l":11895,"c":11895.2},
{"t":20.1,"o":11897,"h":11898.5,"l":11893,"c":11893.2},
{"t":20.15,"o":11894.7,"h":11896,"l":11891.5,"c":11892.7},
{"t":20.2,"o":11893.2,"h":11898.3,"l":11889.5,"c":11890.6},
{"t":20.25,"o":11891.1,"h":11892.5,"l":11887,"c":11889},
{"t":20.3,"o":11889,"h":11898,"l":11880,"c":11881.4},
{"t":20.35,"o":11881.4,"h":11888.5,"l":11879.5,"c":11887},
{"t":20.4,"o":11887,"h":11898.6,"l":11885,"c":11895.5},
{"t":20.45,"o":11895.5,"h":11896.5,"l":11880.8,"c":11882.4},
{"t":20.5,"o":11882.4,"h":11888,"l":11876.2,"c":11878.8},
{"t":20.55,"o":11878.8,"h":11881,"l":11871.4,"c":11872.1},
{"t":20.6,"o":11872.1,"h":11876,"l":11868.5,"c":11869.1},
{"t":20.65,"o":11869.1,"h":11871,"l":11862.3,"c":11866.5},
{"t":20.7,"o":11866,"h":11870,"l":11863.5,"c":11867.5},
{"t":20.75,"o":11867,"h":11876,"l":11861.5,"c":11869.3},
{"t":20.8,"o":11867.5,"h":11872,"l":11862,"c":11868.5},
{"t":20.85,"o":11868.5,"h":11870,"l":11863,"c":11866},
{"t":20.9,"o":11866.5,"h":11868,"l":11858.7,"c":11865},
{"t":20.95,"o":11866.5,"h":11869.5,"l":11861.3,"c":11863.9},
{"t":21,"o":11863.9,"h":11878.2,"l":11860.8,"c":11875.2},
{"t":21.05,"o":11875.2,"h":11881.5,"l":11870,"c":11871},
{"t":21.1,"o":11871,"h":11873,"l":11855,"c":11856},
{"t":21.15,"o":11856,"h":11863,"l":11849.8,"c":11855.5},
{"t":21.2,"o":11855.5,"h":11862.5,"l":11847.25,"c":11862},
{"t":21.25,"o":11858,"h":11865,"l":11852,"c":11862},
{"t":21.3,"o":11863,"h":11884.5,"l":11861.5,"c":11883},
{"t":21.35,"o":11883,"h":11896.3,"l":11881,"c":11889},
{"t":21.4,"o":11889,"h":11890.5,"l":11882.5,"c":11884.2},
{"t":21.45,"o":11884.5,"h":11886.5,"l":11880,"c":11882.8},
{"t":21.5,"o":11885,"h":11886,"l":11879.4,"c":11881.5},
{"t":21.55,"o":11879.7,"h":11885,"l":11875.2,"c":11881.5},
{"t":21.6,"o":11881.5,"h":11890,"l":11878,"c":11889.2},
{"t":21.65,"o":11888.5,"h":11892,"l":11882.5,"c":11889.9},
{"t":21.7,"o":11889.9,"h":11891.5,"l":11881.6,"c":11887.4},
{"t":21.75,"o":11887.4,"h":11891.5,"l":11883,"c":11885},
{"t":21.8,"o":11887.1,"h":11890.4,"l":11881.5,"c":11884.3},
{"t":21.85,"o":11884.3,"h":11892.1,"l":11881.5,"c":11889.2},
{"t":21.9,"o":11889.2,"h":11898.4,"l":11888,"c":11897.7},
{"t":21.95,"o":11897.7,"h":11906.8,"l":11894.2,"c":11902},
{"t":22,"o":11902,"h":11907.5,"l":11899.5,"c":11900.5},
{"t":22.05,"o":11902,"h":11904.7,"l":11894.2,"c":11899.1},
{"t":22.1,"o":11899.1,"h":11904.7,"l":11895.6,"c":11902.6},
{"t":22.15,"o":11901.9,"h":11903,"l":11890.6,"c":11892.7},
{"t":22.2,"o":11892.7,"h":11904.7,"l":11892.1,"c":11902.6},
{"t":22.25,"o":11902.6,"h":11906.8,"l":11885,"c":11886.4},
{"t":22.3,"o":11886.4,"h":11899.5,"l":11885.1,"c":11899.1},
{"t":22.35,"o":11899.1,"h":11912.4,"l":11897,"c":11906.8},
{"t":22.4,"o":11906.8,"h":11917,"l":11904.7,"c":11916.7},
{"t":22.45,"o":11917.5,"h":11919.5,"l":11910.3,"c":11915.3},
{"t":22.5,"o":11915.3,"h":11938.5,"l":11914,"c":11930.8},
{"t":22.55,"o":11930.8,"h":11932.5,"l":11926,"c":11932.9},
{"t":22.6,"o":11932.9,"h":11939,"l":11932,"c":11937.1},
{"t":22.65,"o":11937.1,"h":11941,"l":11935.5,"c":11940.6},
{"t":22.7,"o":11940.6,"h":11951.9,"l":11939,"c":11948.7},
{"t":22.75,"o":11948.7,"h":11952.6,"l":11939,"c":11940.6},
{"t":22.8,"o":11942.5,"h":11944,"l":11931.5,"c":11940.6},
{"t":22.85,"o":11940.6,"h":11942.7,"l":11927.9,"c":11930.8},
{"t":22.9,"o":11930.8,"h":11931,"l":11923.75,"c":11925.9},
{"t":22.95,"o":11925.9,"h":11943.4,"l":11923.8,"c":11937.1},
{"t":23,"o":11937.1,"h":11942,"l":11933.5,"c":11938.5},
{"t":23.05,"o":11938.5,"h":11940.6,"l":11933.5,"c":11937.1},
{"t":23.1,"o":11937.1,"h":11947.7,"l":11935.5,"c":11947},
{"t":23.15,"o":11946.6,"h":11948.4,"l":11939.9,"c":11944.9},
{"t":23.2,"o":11945.9,"h":11947,"l":11942.7,"c":11944.2},
{"t":23.25,"o":11945.2,"h":11946.3,"l":11937.8,"c":11941.3},
{"t":23.3,"o":11944.2,"h":11947,"l":11942,"c":11945.9},
{"t":23.35,"o":11945.2,"h":11947.7,"l":11941.3,"c":11943.4},
{"t":23.4,"o":11943.4,"h":11946.6,"l":11941.7,"c":11943.5},
{"t":23.45,"o":11943.4,"h":11946.3,"l":11941.3,"c":11944.2},
{"t":23.5,"o":11944.2,"h":11946.6,"l":11942.7,"c":11946.6},
{"t":23.55,"o":11946.6,"h":11946.8,"l":11943.1,"c":11945.2},
{"t":23.6,"o":11945.2,"h":11946.6,"l":11944.5,"c":11946.3},
{"t":23.65,"o":11946.3,"h":11947.5,"l":11943,"c":11945.6},
{"t":23.7,"o":11945.6,"h":11946.3,"l":11943.9,"c":11945.3}
]
},
"layer": [
{
"data": {"name": "sessions"},
"mark": {"type": "rect", "opacity": 0.17},
"encoding": {
"x": {"field": "x0", "type": "quantitative", "scale": {"domain": [0, 24], "nice": false, "zero": false},
"axis": {"title": null, "values": [0,1,2,3,4,5,6,7,8,9,10,11,12,13,14,15,16,17,18,19,20,21,22,23], "labelExpr": "['5p','6p','7p','8p','9p','10p','11p','12a','1a','2a','3a','4a','5a','6a','7a','8a','9a','10a','11a','12p','1p','2p','3p','4p'][datum.value]", "domain": false, "grid": false, "ticks": true, "tickSize": 18, "tickColor": "#a0a4ab", "tickWidth": 1.5, "offset": 14, "labelPadding": 7, "labelFont": "Roboto", "labelFontSize": 22, "labelFontWeight": 500, "labelColor": "#60646b", "labelFlush": false}},
"x2": {"field": "x1"},
"y": {"field": "lo", "type": "quantitative", "scale": {"domain": [11790.92, 11962.82], "nice": false, "zero": false},
"axis": {"orient": "right", "title": null, "values": [11800,11810,11820,11830,11840,11850,11860,11870,11880,11890,11900,11910,11920,11930,11940,11950,11960], "format": ",.2f", "domain": true, "domainColor": "#dfe1e5", "domainWidth": 2, "ticks": false, "tickSize": 0, "labelPadding": 21, "labelFont": "Roboto", "labelFontSize": 26.5, "labelColor": "#333333", "grid": false, "labelFlush": false}},
"y2": {"field": "hi"},
"fill": {"field": "s", "type": "nominal",
"scale": {"domain": ["Asia · 7–11 PM", "London · 1–5 AM", "New York · 7–11 AM"], "range": ["#2196f3", "#e91e63", "#ffd600"]},
"legend": {"orient": "none", "legendX": 814, "legendY": 1702, "direction": "horizontal", "title": null, "labelFont": "Roboto", "labelFontSize": 27, "labelFontWeight": 600, "labelColor": "#5f6368", "labelLimit": 600, "symbolType": "M-1,-0.68H1V0.68H-1Z", "symbolSize": 1444, "symbolOpacity": 1, "symbolStrokeWidth": 0, "labelOffset": 13, "columnPadding": 62, "padding": 0}}
}
},
{
"data": {"name": "closed"},
"mark": {"type": "rect", "color": "#f3f3f3"},
"encoding": {"x": {"field": "from", "type": "quantitative"}, "x2": {"field": "to"}}
},
{
"data": {"name": "grid"},
"mark": {"type": "rule", "color": "#d6d8dc", "strokeWidth": 1.5},
"encoding": {"x": {"field": "t", "type": "quantitative"}}
},
{
"data": {"name": "levels"},
"mark": {"type": "rule"},
"encoding": {
"x": {"field": "x0", "type": "quantitative"},
"x2": {"field": "x1"},
"y": {"field": "p", "type": "quantitative"},
"stroke": {"field": "kind", "type": "nominal", "legend": null, "scale": {"domain": ["asia","london","ny","ny79","blkdot","blksol","key","pdc"], "range": ["#2196f3","#e91e63","#e6a700","#1010e0","#a040c0","#8e3cb0","#9ca3af","#089981"]}},
"strokeDash": {"field": "kind", "type": "nominal", "legend": null, "scale": {"domain": ["asia","london","ny","ny79","blkdot","blksol","key","pdc"], "range": [[4,5],[4,5],[6,4],[1,0],[2,4],[1,0],[12,9],[1,0]]}},
"strokeWidth": {"field": "kind", "type": "ordinal", "legend": null, "scale": {"type": "ordinal", "domain": ["asia","london","ny","ny79","blkdot","blksol","key","pdc"], "range": [2.5,2.5,2.5,2.6,2,1.8,2.6,3.6]}}
}
},
{
"data": {"name": "candles"},
"mark": {"type": "rule", "color": "#a3a7ae", "strokeWidth": 1.8},
"encoding": {"x": {"field": "t", "type": "quantitative"}, "y": {"field": "l", "type": "quantitative"}, "y2": {"field": "h"}}
},
{
"data": {"name": "candles"},
"mark": {"type": "rule", "strokeWidth": 2.8},
"encoding": {"x": {"field": "t", "type": "quantitative"}, "y": {"field": "o", "type": "quantitative"}, "y2": {"field": "c"},
"color": {"condition": {"test": "datum.c >= datum.o", "value": "#089981"}, "value": "#f23645"}}
},
{
"data": {"name": "ma"},
"mark": {"type": "line", "color": "#1010dd", "strokeWidth": 5.5, "interpolate": "monotone", "strokeCap": "round"},
"encoding": {"x": {"field": "t", "type": "quantitative"}, "y": {"field": "v", "type": "quantitative"}}
},
{
"data": {"name": "labels"},
"mark": {"type": "text", "font": "Roboto", "fontSize": 27, "fontWeight": "bold", "align": "left", "baseline": "alphabetic", "dy": -9},
"encoding": {"x": {"field": "t", "type": "quantitative"}, "y": {"field": "p", "type": "quantitative"}, "text": {"field": "label"},
"color": {"field": "kind", "type": "nominal", "legend": null, "scale": {"domain": ["asia","london","ny","ny79"], "range": ["#2196f3","#e91e63","#e0a200","#1010e0"]}}}
},
{
"data": {"name": "note"},
"mark": {"type": "text", "font": "Roboto", "fontSize": 26, "fontWeight": "bold", "align": "left", "baseline": "alphabetic", "dy": 25, "color": "#089981"},
"encoding": {"x": {"field": "t", "type": "quantitative"}, "y": {"field": "p", "type": "quantitative"}, "text": {"field": "label"}}
},
{
"data": {"name": "keys"},
"transform": [
{"calculate": "datum.p - 2", "as": "p0"},
{"calculate": "datum.p + 2", "as": "p1"},
{"calculate": "23.94 - 0.42 - 0.155 * length(datum.name)", "as": "bx"},
{"calculate": "(datum.bx + 23.94) / 2", "as": "cx"}
],
"layer": [
{"mark": {"type": "rect", "cornerRadius": 4},
"encoding": {"x": {"field": "bx", "type": "quantitative"}, "x2": {"datum": 23.94}, "y": {"field": "p0", "type": "quantitative"}, "y2": {"field": "p1"},
"color": {"condition": {"test": "datum.name === 'PDC'", "value": "#089981"}, "value": "#9ca3af"}}},
{"mark": {"type": "rect", "cornerRadius": 4},
"encoding": {"x": {"datum": 23.98}, "x2": {"datum": 25.74}, "y": {"field": "p0", "type": "quantitative"}, "y2": {"field": "p1"},
"color": {"condition": {"test": "datum.name === 'PDC'", "value": "#089981"}, "value": "#9ca3af"}}},
{"mark": {"type": "text", "font": "Roboto", "fontSize": 26.5, "align": "center", "baseline": "middle"},
"encoding": {"x": {"field": "cx", "type": "quantitative"}, "y": {"field": "p", "type": "quantitative"}, "text": {"field": "name"},
"color": {"condition": {"test": "datum.name === 'PDC'", "value": "#ffffff"}, "value": "#1f2328"}}},
{"mark": {"type": "text", "font": "Roboto", "fontSize": 26.5, "align": "left", "baseline": "middle"},
"encoding": {"x": {"datum": 24.21}, "y": {"field": "p", "type": "quantitative"}, "text": {"field": "p", "type": "quantitative", "format": ",.2f"},
"color": {"condition": {"test": "datum.name === 'PDC'", "value": "#ffffff"}, "value": "#1f2328"}}}
]
},
{
"data": {"values": [{}]},
"mark": {"type": "rule", "color": "#dfe1e5", "strokeWidth": 2},
"encoding": {"y": {"datum": 11790.92}}
},
{
"data": {"values": [{"label": "Page 1445 of 4109"}]},
"mark": {"type": "text", "font": "Roboto", "fontSize": 27, "fontWeight": 500, "color": "#202124", "align": "center", "baseline": "middle"},
"encoding": {"x": {"datum": 12.24}, "y": {"datum": 11769.3}, "text": {"field": "label"}}
},
{
"data": {"values": [{"label": "quantifyedge.com"}]},
"mark": {"type": "text", "font": "Roboto", "fontSize": 36, "fontWeight": "bold", "color": "#111111", "align": "right", "baseline": "middle"},
"encoding": {"x": {"datum": 25.84}, "y": {"datum": 11769.3}, "text": {"field": "label"}}
},
{
"data": {"values": [{}]},
"mark": {"type": "point", "shape": "circle", "filled": false, "stroke": "#1f2a33", "strokeWidth": 14, "size": 7600, "opacity": 1},
"encoding": {"x": {"datum": 0.84}, "y": {"datum": 11770}}
},
{
"data": {"values": [{}]},
"mark": {"type": "rule", "color": "#1f2a33", "strokeWidth": 13},
"encoding": {"x": {"datum": 0.86}, "y": {"datum": 11769.5}, "x2": {"datum": 1.3}, "y2": {"datum": 11762.3}}
}
]
}
